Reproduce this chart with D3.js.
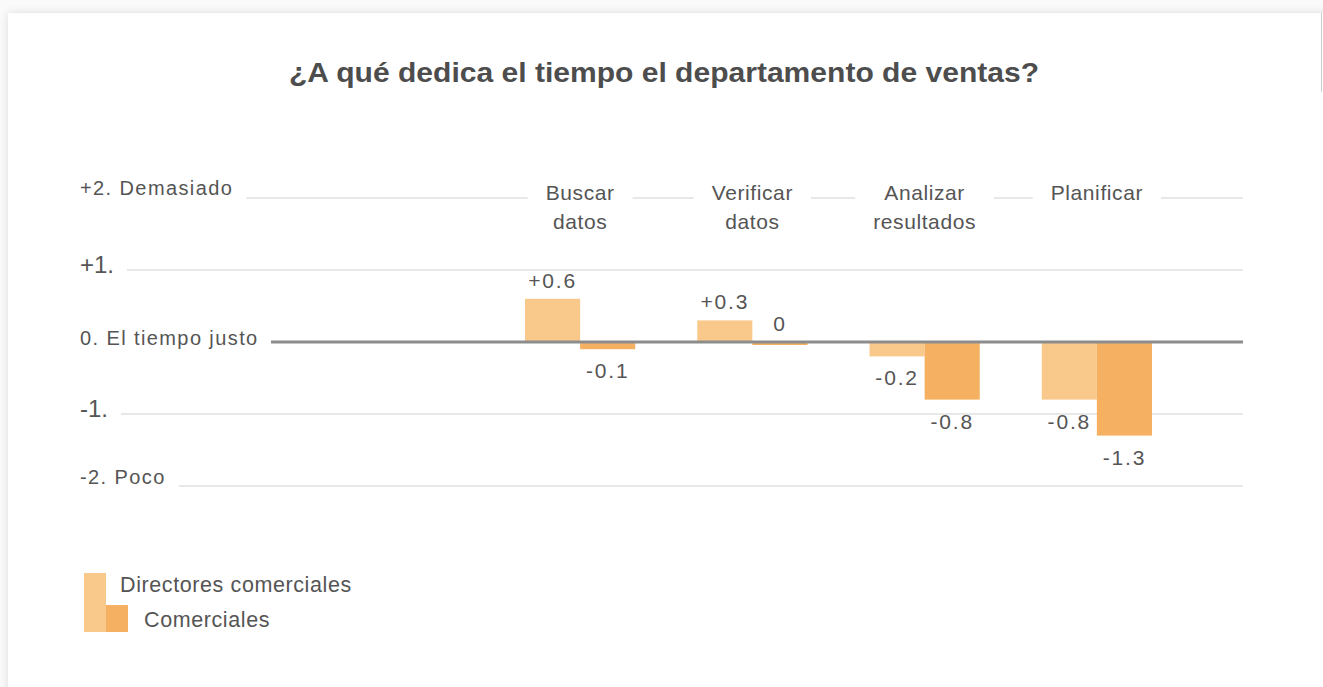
<!DOCTYPE html>
<html>
<head>
<meta charset="utf-8">
<script src="https://cdn.jsdelivr.net/npm/d3@7"></script>
<style>
  body { margin: 0; background: #f7f7f7; font-family: "Liberation Sans", Arial, sans-serif; }
  svg { display: block; }
</style>
</head>
<body>
<svg width="1323" height="687"></svg>
<script>
// data
const categories = ["Buscar datos", "Verificar datos", "Analizar resultados", "Planificar"];
const categoryLines = [["Buscar", "datos"], ["Verificar", "datos"], ["Analizar", "resultados"], ["Planificar"]];
const directores = [0.6, 0.3, -0.2, -0.8];
const comerciales = [-0.1, 0, -0.8, -1.3];
const seriesNames = ["Directores comerciales", "Comerciales"];
const yTicks = [2, 1, 0, -1, -2];
const yTickLabels = ["+2. Demasiado", "+1.", "0. El tiempo justo", "-1.", "-2. Poco"];

const svg = d3.select("svg"),
      width = +svg.attr("width"),
      height = +svg.attr("height");

const colors = {
  dir: "#f9c98b",
  com: "#f5b062",
  text: "#555",
  grid: "#e8e8e8",
  zero: "#8c8c8c"
}

// card with soft shadow
const defs = svg.append("defs");
const shadow = defs.append("filter").attr("id", "shadow")
  .attr("x", "-5%").attr("y", "-5%").attr("width", "110%").attr("height", "110%");
shadow.append("feGaussianBlur").attr("in", "SourceAlpha").attr("stdDeviation", 5);
shadow.append("feComponentTransfer").append("feFuncA").attr("type", "linear").attr("slope", 0.12);
const merge = shadow.append("feMerge");
merge.append("feMergeNode");
merge.append("feMergeNode").attr("in", "SourceGraphic");

svg.append("rect").attr("width", width).attr("height", height).attr("fill", "#fafafa");
svg.append("rect")
  .attr("x", 8).attr("y", 13).attr("width", 1340).attr("height", 700)
  .attr("fill", "#fff").attr("filter", "url(#shadow)");
svg.append("line")
  .attr("x1", 1321.5).attr("x2", 1321.5).attr("y1", 13).attr("y2", 92)
  .attr("stroke", "#ccc").attr("stroke-width", 1);

svg.append("text")
  .attr("x", 664).attr("y", 82)
  .attr("text-anchor", "middle")
  .attr("font-size", 27).attr("font-weight", 700)
  .attr("textLength", 750).attr("lengthAdjust", "spacingAndGlyphs")
  .attr("fill", "#4d4d4d")
  .text("¿A qué dedica el tiempo el departamento de ventas?");

const y = d3.scaleLinear().domain([-2, 2]).range([486, 198]);
const x = d3.scaleBand().domain(categories).range([494, 1183])
  .paddingInner(0.36).paddingOuter(0.18);
const xSub = d3.scaleBand().domain(seriesNames).range([0, x.bandwidth()]);

const gridEnd = 1243;

// y labels and grid lines
const yg = svg.append("g");
yTicks.forEach(function(t, i) {
  const big = (t == 1 || t == -1);
  const lbl = yg.append("text")
    .attr("x", 80).attr("y", y(t) + (t == 2 ? -3 : (t == -2 ? -2 : 3)))
    .attr("font-size", big ? 24 : 20)
    .attr("letter-spacing", big ? 0 : 1.4)
    .attr("fill", colors.text)
    .text(yTickLabels[i]);
  const w = lbl.node().getComputedTextLength();
  if (t != 0) {
    yg.insert("line", "text")
      .attr("x1", 80 + w + 13).attr("x2", gridEnd)
      .attr("y1", y(t)).attr("y2", y(t))
      .attr("stroke", colors.grid).attr("stroke-width", 2);
  }
});

// category labels with white backing to break the top grid line
const cg = svg.append("g");
categories.forEach(function(c, i) {
  const cx = x(c) + x.bandwidth() / 2;
  const t = cg.append("text")
    .attr("x", cx).attr("y", 200)
    .attr("text-anchor", "middle")
    .attr("font-size", 21).attr("letter-spacing", 0.6)
    .attr("fill", colors.text);
  categoryLines[i].forEach(function(line, j) {
    t.append("tspan").attr("x", cx).attr("dy", j == 0 ? 0 : 29).text(line);
  });
  const bb = t.node().getBBox();
  cg.insert("rect", "text")
    .attr("x", bb.x - 18).attr("y", bb.y - 2)
    .attr("width", bb.width + 36).attr("height", bb.height + 4)
    .attr("fill", "#fff");
});

// bars
const rows = categories.map(function(c, i) {
  return [
    {cat: c, series: seriesNames[0], value: directores[i], color: colors.dir},
    {cat: c, series: seriesNames[1], value: comerciales[i], color: colors.com}
  ];
}).flat();

svg.append("g").selectAll("rect")
  .data(rows).enter().append("rect")
  .attr("x", d => x(d.cat) + xSub(d.series))
  .attr("width", xSub.bandwidth())
  .attr("y", d => y(Math.max(0, d.value)))
  .attr("height", d => Math.max(Math.abs(y(d.value) - y(0)), 3))
  .attr("fill", d => d.color);

// zero line
svg.append("line")
  .attr("x1", 271).attr("x2", gridEnd)
  .attr("y1", y(0)).attr("y2", y(0))
  .attr("stroke", colors.zero).attr("stroke-width", 3);

// value labels
const fmt = v => v > 0 ? "+" + v : (v == 0 ? "0" : String(v));
svg.append("g").selectAll("text")
  .data(rows).enter().append("text")
  .attr("x", d => x(d.cat) + xSub(d.series) + xSub.bandwidth() / 2)
  .attr("y", d => d.value >= 0 ? y(d.value) - 11 : y(d.value) + 29)
  .attr("text-anchor", "middle")
  .attr("font-size", 21).attr("letter-spacing", 1.8)
  .attr("fill", colors.text)
  .text(d => fmt(d.value));

// legend
const lg = svg.append("g");
lg.append("rect").attr("x", 84).attr("y", 573).attr("width", 22).attr("height", 59).attr("fill", colors.dir);
lg.append("rect").attr("x", 106).attr("y", 605).attr("width", 22).attr("height", 27).attr("fill", colors.com);
lg.append("text").attr("x", 120).attr("y", 592)
  .attr("font-size", 21.5).attr("letter-spacing", 0.6).attr("fill", colors.text).text(seriesNames[0]);
lg.append("text").attr("x", 144).attr("y", 627)
  .attr("font-size", 21.5).attr("letter-spacing", 0.6).attr("fill", colors.text).text(seriesNames[1]);
</script>
</body>
</html>
